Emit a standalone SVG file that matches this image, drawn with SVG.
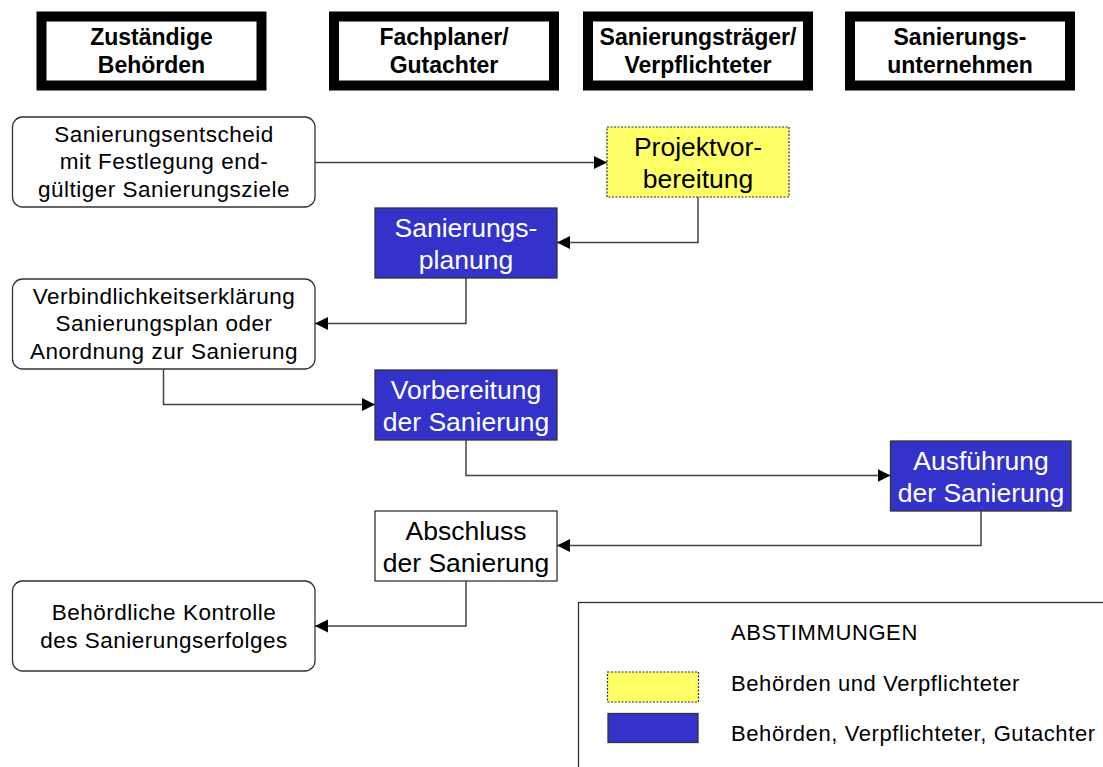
<svg xmlns="http://www.w3.org/2000/svg" width="1103" height="767" viewBox="0 0 1103 767">
<style>
  .hdr rect { fill: #fff; stroke: #000; stroke-width: 10; }
  .hdr text { font-family: "Liberation Sans", Arial, sans-serif; font-weight: bold; font-size: 23px; fill: #000; text-anchor: middle; }
  .rnd rect { fill: #fff; stroke: #333; stroke-width: 1.3; }
  .sm { font-family: "Liberation Sans", Arial, sans-serif; font-size: 22.5px; letter-spacing: 0.5px; fill: #000; text-anchor: middle; }
  .big { font-family: "Liberation Sans", Arial, sans-serif; font-size: 26.5px; text-anchor: middle; }
  .blue rect { fill: #3333CC; stroke: #333; stroke-width: 1.3; }
  .blue text { fill: #fff; }
  .yel rect { fill: #FFFF66; stroke: #333; stroke-width: 1.2; stroke-dasharray: 2 1.5; }
  .wht rect { fill: #fff; stroke: #333; stroke-width: 1.3; }
  .conn path { fill: none; stroke: #444; stroke-width: 1.5; marker-end: url(#arr); }
  .leg { font-family: "Liberation Sans", Arial, sans-serif; font-size: 22px; letter-spacing: 0.6px; fill: #000; }
</style>
<defs>
  <marker id="arr" markerUnits="userSpaceOnUse" markerWidth="14" markerHeight="14" refX="13" refY="6.5" orient="auto">
    <path d="M0,0 L13,6.5 L0,13 z" fill="#000"/>
  </marker>
</defs>
<rect width="1103" height="767" fill="#fff"/>

<g id="h1" class="hdr"><rect x="41.5" y="16.5" width="220" height="69"/><text x="151.5" y="45">Zuständige</text><text x="151.5" y="73">Behörden</text></g>
<g id="h2" class="hdr"><rect x="334" y="16.5" width="220" height="69"/><text x="444" y="45">Fachplaner/</text><text x="444" y="73">Gutachter</text></g>
<g id="h3" class="hdr"><rect x="588" y="16.5" width="220" height="69"/><text x="698" y="45">Sanierungsträger/</text><text x="698" y="73">Verpflichteter</text></g>
<g id="h4" class="hdr"><rect x="850" y="16.5" width="220" height="69"/><text x="960" y="45">Sanierungs-</text><text x="960" y="73">unternehmen</text></g>

<g id="n1" class="rnd"><rect x="12.5" y="117" width="302.5" height="90" rx="10"/>
  <text class="sm" x="164" y="141.5">Sanierungsentscheid</text>
  <text class="sm" x="164" y="169">mit Festlegung end-</text>
  <text class="sm" x="164" y="196.5">gültiger Sanierungsziele</text></g>

<g id="n2" class="yel"><rect x="607" y="127" width="182" height="70"/>
  <text class="big" x="698" y="155.5">Projektvor-</text>
  <text class="big" x="698" y="187.5">bereitung</text></g>

<g id="n3" class="blue"><rect x="375" y="208" width="182" height="70"/>
  <text class="big" x="466" y="236.5">Sanierungs-</text>
  <text class="big" x="466" y="268.5">planung</text></g>

<g id="n4" class="rnd"><rect x="12.5" y="279" width="302.5" height="90" rx="10"/>
  <text class="sm" x="164" y="303.5">Verbindlichkeitserklärung</text>
  <text class="sm" x="164" y="331">Sanierungsplan oder</text>
  <text class="sm" x="164" y="358.5">Anordnung zur Sanierung</text></g>

<g id="n5" class="blue"><rect x="375" y="370" width="182" height="70"/>
  <text class="big" x="466" y="398.5">Vorbereitung</text>
  <text class="big" x="466" y="430.5">der Sanierung</text></g>

<g id="n6" class="blue"><rect x="890.5" y="441" width="180.5" height="70"/>
  <text class="big" x="981" y="469.5">Ausführung</text>
  <text class="big" x="981" y="501.5">der Sanierung</text></g>

<g id="n7" class="wht"><rect x="375" y="511" width="182" height="70"/>
  <text class="big" x="466" y="539.5">Abschluss</text>
  <text class="big" x="466" y="571.5">der Sanierung</text></g>

<g id="n8" class="rnd"><rect x="12.5" y="581" width="302.5" height="90" rx="10"/>
  <text class="sm" x="164" y="619.5">Behördliche Kontrolle</text>
  <text class="sm" x="164" y="647.5">des Sanierungserfolges</text></g>

<g id="connectors" class="conn">
  <path d="M315,162.5 H607"/>
  <path d="M698,197 V242.5 H557"/>
  <path d="M466,278 V323.5 H315"/>
  <path d="M163.5,369 V404.5 H375"/>
  <path d="M466,440 V475.5 H890.5"/>
  <path d="M981,511 V545.5 H557"/>
  <path d="M466,581 V626 H315"/>
</g>

<g id="legend">
  <rect x="578.5" y="602.5" width="600" height="300" fill="#fff" stroke="#333" stroke-width="1.3"/>
  <text class="leg" x="731" y="639.5">ABSTIMMUNGEN</text>
  <rect x="607.5" y="672" width="91" height="30" fill="#FFFF66" stroke="#333" stroke-width="1.2" stroke-dasharray="2 1.5"/>
  <text class="leg" x="731" y="690.5">Behörden und Verpflichteter</text>
  <rect x="608" y="713.5" width="90" height="29" fill="#3333CC" stroke="#333" stroke-width="1.3"/>
  <text class="leg" x="731" y="740.5">Behörden, Verpflichteter, Gutachter</text>
</g>
</svg>
